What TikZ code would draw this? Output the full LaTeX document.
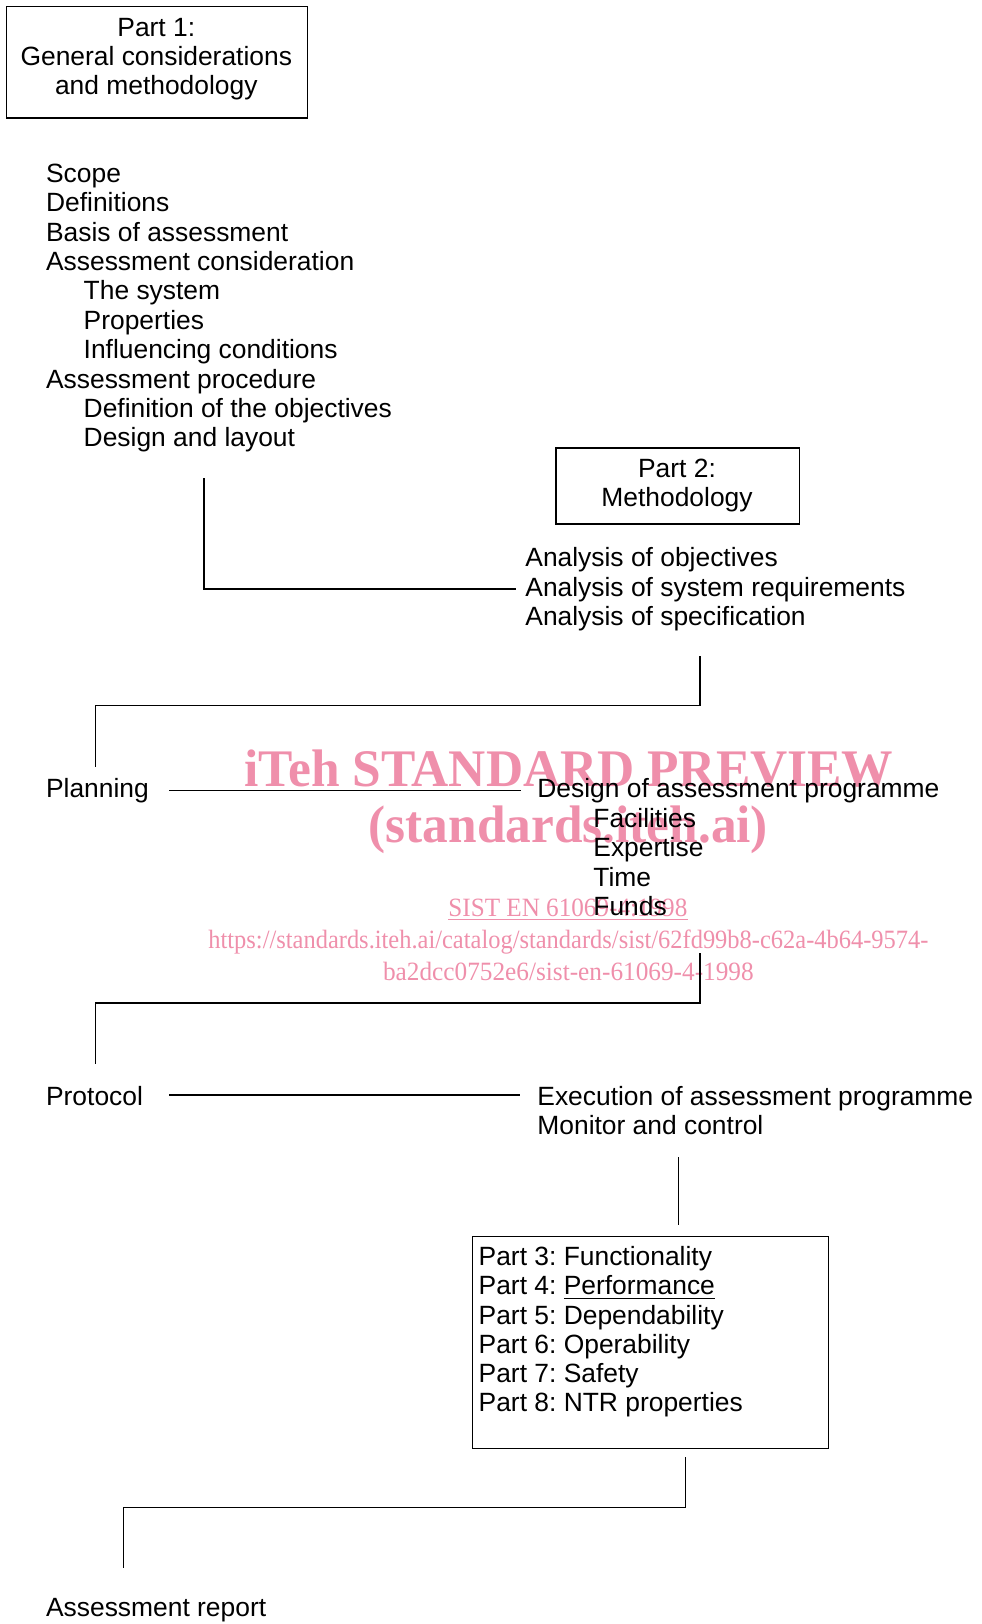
\documentclass[tikz,border=0pt]{standalone}
\usepackage{fontspec}
\setmainfont{Liberation Sans}
\newfontfamily\wmfont{Liberation Serif}
\usepackage{graphicx}
\definecolor{wm}{RGB}{239,143,171}
\newcommand{\mainsz}{\fontsize{13.2pt}{14.7pt}\selectfont}
\frenchspacing
\begin{document}
\begin{tikzpicture}[x=0.5pt,y=-0.5pt,
  t/.style={anchor=base west, inner sep=0pt, font=\mainsz},
  tc/.style={anchor=base, inner sep=0pt, font=\mainsz},
  frame/.style={draw, line width=0.6pt, inner sep=0pt, anchor=north west},
  wmt/.style={anchor=base west, inner sep=0pt, text=wm},
  wmbig/.style={wmt, font=\wmfont\bfseries\fontsize{26.4pt}{28pt}\selectfont},
  wmsmall/.style={wmt, font=\wmfont\fontsize{13.2pt}{15pt}\selectfont},
  conn/.style={line width=0.6pt}]
\useasboundingbox (0,0) rectangle (981,1624);

% watermark
\node[wmbig] (w1) at (244,786.7) {\resizebox{324.5pt}{\height}{iTeh STANDARD PREVIEW}};
\node[wmbig] (w2) at (368.3,842) {\resizebox{199.7pt}{\height}{(standards.iteh.ai)}};
\node[wmsmall] (w3) at (448,916) {\resizebox{119.5pt}{\height}{SIST EN 61069-4:1998}};
\draw[wm, line width=0.5pt] ([yshift=-1.75pt]w3.base west) -- ([yshift=-1.75pt]w3.base east);
\node[wmsmall] (w4) at (208,948) {\resizebox{360pt}{\height}{https://standards.iteh.ai/catalog/standards/sist/62fd99b8-c62a-4b64-9574-}};
\node[wmsmall] (w5) at (382.7,980) {\resizebox{185.3pt}{\height}{ba2dcc0752e6/sist-en-61069-4-1998}};

% Part 1
\node[frame, minimum width=150.35pt, minimum height=55.8pt] (box1) at (6,5.7) {};
\node[tc] (p1a) at (156.3,36) {Part 1:};
\node[tc] (p1b) at (156.3,65.3) {General considerations};
\node[tc] (p1c) at (156.3,94.6) {and methodology};

\node[t] (l1) at (45.7,182.5) {Scope};
\node[t] (l2) at (45.7,211.9) {Definitions};
\node[t] (l3) at (45.7,241.2) {Basis of assessment};
\node[t] (l4) at (45.7,270.6) {Assessment consideration};
\node[t] (l5) at (83.3,299.9) {The system};
\node[t] (l6) at (83.3,329.3) {Properties};
\node[t] (l7) at (83.3,358.6) {Influencing conditions};
\node[t] (l8) at (45.7,388.0) {Assessment procedure};
\node[t] (l9) at (83.3,417.3) {Definition of the objectives};
\node[t] (l10) at (83.3,446.7) {Design and layout};

% Part 2
\node[frame, minimum width=121.75pt, minimum height=38pt] (box2) at (555.3,447.3) {};
\node[tc] (p2a) at (677,477.3) {Part 2:};
\node[tc] (p2b) at (677,506.7) {Methodology};
\node[t] (a1) at (525,566.5) {Analysis of objectives};
\node[t] (a2) at (525,596) {Analysis of system requirements};
\node[t] (a3) at (525,625.5) {Analysis of specification};

% Planning
\node[t] (plan) at (45.7,797.5) {Planning};
\node[t] (d0) at (537,797.5) {Design of assessment programme};
\node[t] (d1) at (593,827) {Facilities};
\node[t] (d2) at (593,856.5) {Expertise};
\node[t] (d3) at (593,886) {Time};
\node[t] (d4) at (593,915.5) {Funds};

% Protocol
\node[t] (prot) at (45.7,1105) {Protocol};
\node[t] (e1) at (537,1105) {Execution of assessment programme};
\node[t] (e2) at (537,1134.5) {Monitor and control};

% Parts 3-8
\node[frame, minimum width=178.25pt, minimum height=106.25pt] (box3) at (471.5,1235.5) {};
\node[t] (q3) at (478.3,1265.7) {Part 3: Functionality};
\node[t] (q4) at (478.3,1294.9) {Part 4: \underline{Performance}};
\node[t] (q5) at (478.3,1324.1) {Part 5: Dependability};
\node[t] (q6) at (478.3,1353.3) {Part 6: Operability};
\node[t] (q7) at (478.3,1382.5) {Part 7: Safety};
\node[t] (q8) at (478.3,1411.7) {Part 8: NTR properties};

\node[t] (rep) at (45.7,1616.7) {Assessment report};

% connector points
\coordinate (c1a) at (204,478);
\coordinate (c1b) at (516,589);
\coordinate (c2a) at (700,656);
\coordinate (c2b) at (700,705.7);
\coordinate (c2c) at (95.2,766.6);
\coordinate (h1a) at (169,790.5);
\coordinate (h1b) at (521,790.5);
\coordinate (c3a) at (700,953);
\coordinate (c3b) at (700,1003);
\coordinate (c3c) at (95.2,1064);
\coordinate (h2a) at (169,1095);
\coordinate (h2b) at (520,1095);
\coordinate (c4a) at (678.5,1157);
\coordinate (c4b) at (678.5,1225);
\coordinate (c5a) at (685.8,1457);
\coordinate (c5b) at (685.8,1507.5);
\coordinate (c5c) at (123.3,1568.3);

\draw[conn] (c1a) |- (c1b);
\draw[conn] (c2a) -- (c2b) -| (c2c);
\draw[conn] (h1a) -- (h1b);
\draw[conn] (c3a) -- (c3b) -| (c3c);
\draw[conn] (h2a) -- (h2b);
\draw[conn] (c4a) -- (c4b);
\draw[conn] (c5a) -- (c5b) -| (c5c);
\end{tikzpicture}
\end{document}
